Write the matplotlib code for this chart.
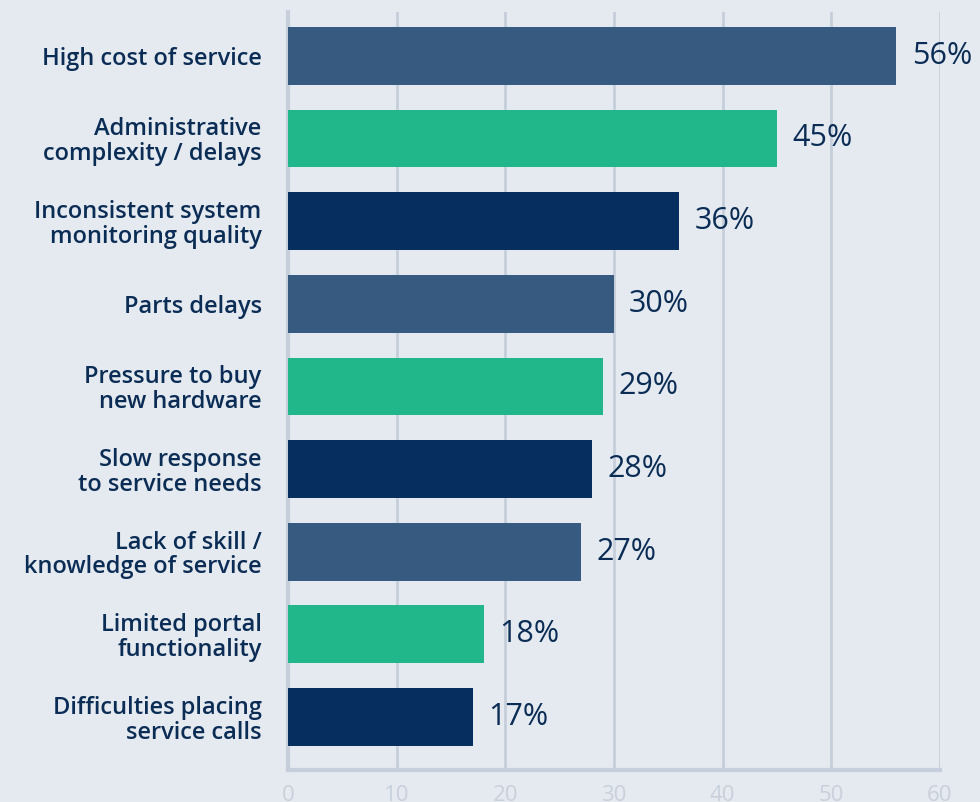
import numpy as np
import matplotlib.pyplot as plt

plt.rcParams['font.family'] = ['Open Sans', 'DejaVu Sans']

# data
labels = ['High cost of service', 'Administrative\ncomplexity / delays',
          'Inconsistent system\nmonitoring quality', 'Parts delays',
          'Pressure to buy\nnew hardware', 'Slow response\nto service needs',
          'Lack of skill /\nknowledge of service', 'Limited portal\nfunctionality',
          'Difficulties placing\nservice calls']
values = [56, 45, 36, 30, 29, 28, 27, 18, 17]
xticks = [0, 10, 20, 30, 40, 50, 60]

bg = '#e5eaf0'
grid_c = '#c6cedb'
text_c = '#0b2d55'
palette = ['#375a80', '#21b78b', '#062e5e']
colors = [palette[i % 3] for i in range(len(values))]

fig = plt.figure(figsize=(9.8, 8.02), dpi=100, facecolor=bg)
ax = fig.add_axes([0.294, 0.040, 0.665, 0.945], facecolor=bg)

y = np.arange(len(values))
ax.barh(y, values, height=0.70, color=colors, zorder=3)

for yi, v in zip(y, values):
    ax.text(v + 1.4, yi, f'{v}%', va='center', ha='left', fontsize=22,
            color=text_c, fontweight='medium', zorder=4)

ax.set_ylim(len(values) - 1 + 0.64, -0.53)
ax.set_xlim(0, 60)
ax.set_xticks(xticks)
ax.set_yticks(y)
ax.set_yticklabels(labels, fontsize=17, color=text_c, fontweight='semibold',
                   linespacing=1.03, ha='right')
ax.tick_params(axis='y', length=0, pad=19)
ax.tick_params(axis='x', length=0, pad=11, labelsize=16, labelcolor='#c8d0dc')

ax.grid(axis='x', color=grid_c, linewidth=2, zorder=0)
for s in ['top', 'right']:
    ax.spines[s].set_visible(False)
for s in ['left', 'bottom']:
    ax.spines[s].set_color(grid_c)
    ax.spines[s].set_linewidth(3)

fig.savefig('out.png', dpi=100, facecolor=bg)
